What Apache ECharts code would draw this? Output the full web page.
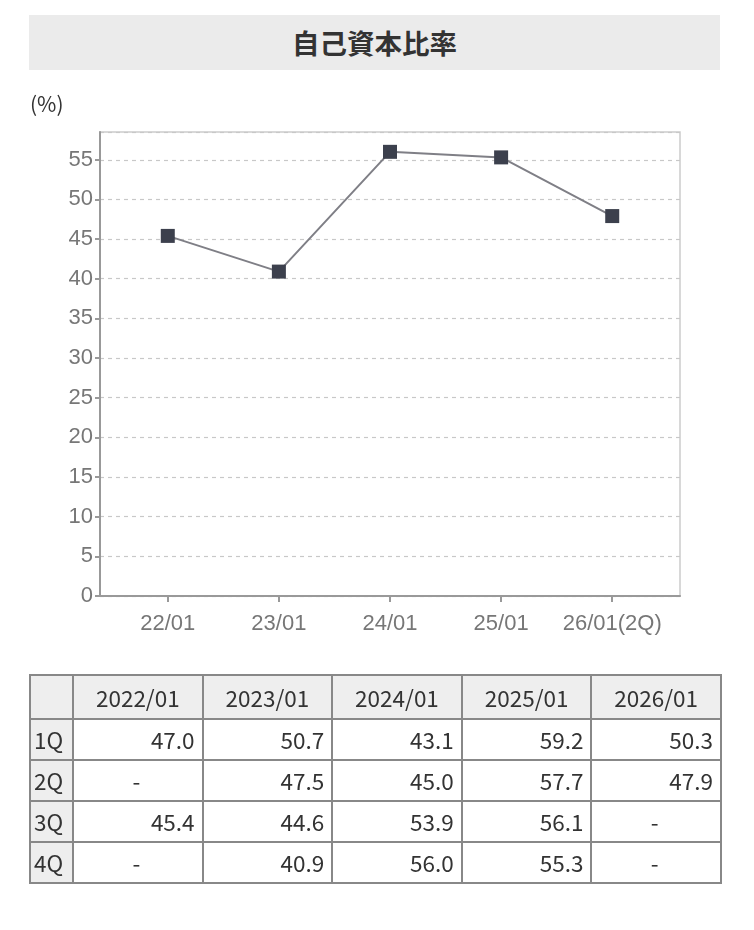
<!DOCTYPE html>
<html>
<head>
<meta charset="utf-8">
<script src="https://cdn.jsdelivr.net/npm/echarts@6/dist/echarts.min.js"></script>
<style>
  html, body { margin: 0; padding: 0; background: #fff; }
  #chart { position: absolute; left: 0; top: 0; width: 754px; height: 930px; }
  #title { position: absolute; left: 29px; top: 15px; width: 691px; height: 55px; background: #ebebeb;
           font-family: "Noto Sans CJK JP", sans-serif; font-weight: bold; font-size: 27.5px; color: #333;
           text-align: center; line-height: 55px; }
  #unit { position: absolute; left: 30px; top: 88px; font-family: "Noto Sans CJK JP", sans-serif;
          font-size: 21px; color: #333; line-height: 30px; }
  #tbl { position: absolute; left: 29px; top: 674px; width: 691px; border-collapse: collapse; table-layout: fixed;
         font-family: "Noto Sans CJK JP", sans-serif; font-size: 22.5px; color: #333; }
  #tbl td, #tbl th { border: 2px solid #888; padding: 0 7px 0 4px; font-weight: normal; line-height: 1; }
  #tbl th { background: #eee; text-align: center; padding: 0; }
  #tbl tr.h { height: 44px; }
  #tbl tr.r { height: 41px; }
  #tbl td { text-align: right; }
  #tbl td.q { background: #eee; text-align: left; padding-left: 3px; padding-right: 0; }
  #tbl td.dash { text-align: center; }
</style>
</head>
<body>
<div id="chart"></div>
<div id="title"></div>
<div id="unit"></div>
<table id="tbl"></table>
<script>
const chartTitle = '自己資本比率';
const unitLabel = '(%)';
const categories = ['22/01', '23/01', '24/01', '25/01', '26/01(2Q)'];
const values = [45.4, 40.9, 56.0, 55.3, 47.9];

const tableYears = ['2022/01', '2023/01', '2024/01', '2025/01', '2026/01'];
const quarters = ['1Q', '2Q', '3Q', '4Q'];
const q1 = [47.0, 50.7, 43.1, 59.2, 50.3];
const q2 = [null, 47.5, 45.0, 57.7, 47.9];
const q3 = [45.4, 44.6, 53.9, 56.1, null];
const q4 = [null, 40.9, 56.0, 55.3, null];
const quarterRows = [q1, q2, q3, q4];

document.getElementById('title').textContent = chartTitle;
document.getElementById('unit').textContent = unitLabel;

// Table
const tbl = document.getElementById('tbl');
let html = '<colgroup><col style="width:43px">' + tableYears.map(() => '<col style="width:129.6px">').join('') + '</colgroup>';
html += '<tr class="h"><th></th>' + tableYears.map(y => '<th>' + y + '</th>').join('') + '</tr>';
quarterRows.forEach((row, i) => {
  html += '<tr class="r"><td class="q">' + quarters[i] + '</td>' +
    row.map(v => v === null ? '<td class="dash">-</td>' : '<td>' + v.toFixed(1) + '</td>').join('') + '</tr>';
});
tbl.innerHTML = html;

const idx = categories.map((c, i) => i);
const chart = echarts.init(document.getElementById('chart'), null, { renderer: 'canvas' });
chart.setOption({
  animation: false,
  grid: { left: 100, right: 74, top: 132, bottom: 334, show: true, borderColor: '#ccc', borderWidth: 1.5 },
  xAxis: {
    type: 'value', min: -0.61, max: 4.61,
    axisLine: { show: true, onZero: false, lineStyle: { color: '#999', width: 2 } },
    axisTick: { show: true, length: 6, customValues: idx, lineStyle: { color: '#999', width: 2 } },
    axisLabel: {
      customValues: idx, margin: 17,
      formatter: v => categories[Math.round(v)],
      fontFamily: 'Liberation Sans', fontSize: 22, color: '#777'
    },
    splitLine: { show: false }
  },
  yAxis: {
    type: 'value', min: 0, max: 58.5, interval: 5,
    axisLine: { show: true, onZero: false, lineStyle: { color: '#999', width: 2 } },
    axisTick: { show: true, length: 5, lineStyle: { color: '#999', width: 2 } },
    axisLabel: { showMaxLabel: false, margin: 7, fontFamily: 'Liberation Sans', fontSize: 22, color: '#777' },
    splitLine: { show: true, lineStyle: { color: '#c8c8c8', type: [4, 4], width: 1.2 } }
  },
  series: [{
    type: 'line',
    data: values.map((v, i) => [i, v]),
    symbol: 'rect', symbolSize: 14,
    itemStyle: { color: '#3c404d' },
    lineStyle: { color: '#7f7f86', width: 2 }
  }]
});
</script>
</body>
</html>
